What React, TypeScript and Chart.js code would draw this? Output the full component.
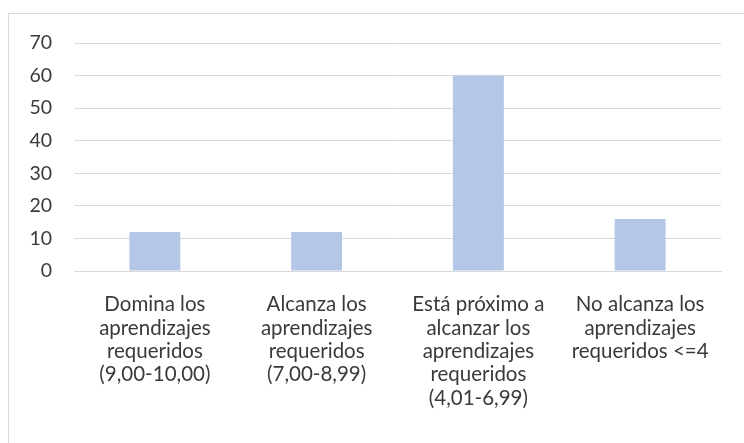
import React, { useEffect, useRef } from "react";
import { Chart, registerables } from "chart.js";
Chart.register(...registerables);

const categories: string[][] = [
  ["Domina los", "aprendizajes", "requeridos", "(9,00-10,00)"],
  ["Alcanza los", "aprendizajes", "requeridos", "(7,00-8,99)"],
  ["Está próximo a", "alcanzar los", "aprendizajes", "requeridos", "(4,01-6,99)"],
  ["No alcanza los", "aprendizajes", "requeridos <=4"],
];
const values: number[] = [12, 12, 60, 16];
const yMin = 0;
const yMax = 70;
const yStep = 10;

const FONT = "Lato, 'Open Sans', sans-serif";

export default function App() {
  const ref = useRef<HTMLCanvasElement | null>(null);
  useEffect(() => {
    if (!ref.current) return;
    const chart = new Chart(ref.current, {
      type: "bar",
      data: {
        labels: categories,
        datasets: [
          {
            data: values,
            backgroundColor: "#B4C7E7",
            borderWidth: 0,
            categoryPercentage: 1,
            barPercentage: 0.315,
          },
        ],
      },
      options: {
        animation: false,
        responsive: false,
        maintainAspectRatio: false,
        layout: { padding: { left: 0, top: 43, right: 23, bottom: 0 } },
        plugins: { legend: { display: false }, tooltip: { enabled: false } },
        scales: {
          x: {
            grid: { display: false },
            border: { color: "#D9D9D9", width: 1 },
            ticks: {
              color: "#3A3A3A",
              font: { family: FONT, size: 20.5, lineHeight: 1.14 },
              maxRotation: 0,
              autoSkip: false,
              padding: 14,
            },
            afterFit: (s: any) => {
              s.height = 172;
            },
          },
          y: {
            min: yMin,
            max: yMax,
            grid: { color: "#D9D9D9", drawTicks: false },
            border: { display: false },
            ticks: {
              stepSize: yStep,
              color: "#3A3A3A",
              font: { family: FONT, size: 19.5 },
              padding: 22,
            },
            afterFit: (s: any) => {
              s.width = 74;
            },
          },
        },
      },
    });
    return () => chart.destroy();
  }, []);
  return (
    <div style={{ position: "fixed", left: 0, top: 0, width: 744, height: 443, background: "#fff", overflow: "hidden" }}>
      <div
        style={{
          position: "absolute",
          left: 8,
          top: 13,
          width: 760,
          height: 460,
          border: "1px solid #D9D9D9",
        }}
      />
      <canvas ref={ref} width={744} height={443} style={{ position: "absolute", left: 0, top: 0 }} />
    </div>
  );
}
